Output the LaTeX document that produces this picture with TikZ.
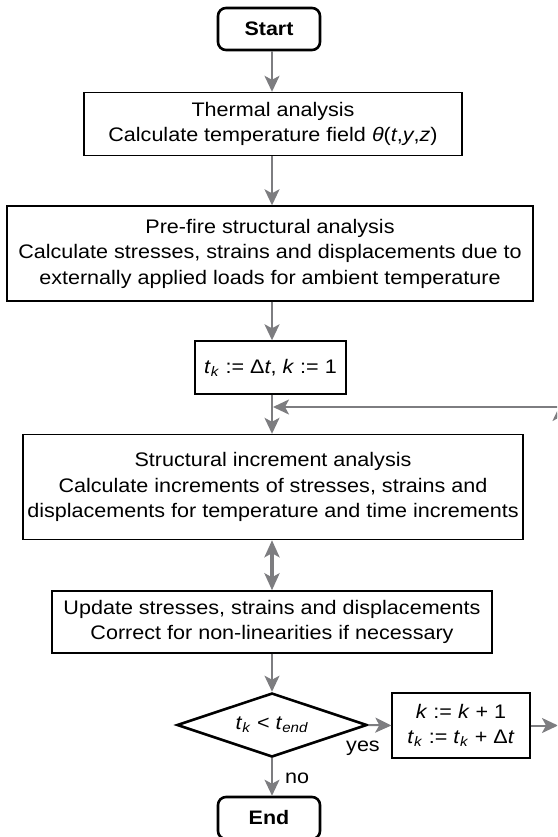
\documentclass[tikz,border=0pt]{standalone}
\usepackage{fontspec}
\setmainfont{Liberation Sans}[FakeStretch=1.1]
\usetikzlibrary{arrows.meta,shapes.geometric}
\definecolor{arrgray}{RGB}{125,125,128}
\newcommand{\tk}{\textit{t}\textsubscript{\textit{k}}}
\begin{document}
\begin{tikzpicture}[x=1pt,y=-1pt,
  txt/.style={font=\fontsize{19.6}{25.5}\selectfont, align=center},
  box/.style={txt, draw=black, line width=1.4pt, inner sep=0pt},
  term/.style={box, line width=2.6pt, rounded corners=8pt, font=\fontsize{19.5}{23}\selectfont\bfseries,
    minimum width=102pt, minimum height=42pt},
  dec/.style={txt, draw=black, line width=2.6pt, shape=diamond, inner sep=0pt, aspect=2.97,
    minimum width=190pt, minimum height=64pt},
  arr/.style={draw=arrgray, line width=2pt, -{Stealth[length=16pt,width=15pt,inset=4pt]}},
  dbl/.style={draw=arrgray, line width=3.5pt, {Stealth[length=17pt,width=15pt,inset=4pt]}-{Stealth[length=17pt,width=15pt,inset=4pt]}},
  lbl/.style={font=\fontsize{19.6}{22}\selectfont, inner sep=0pt}]
\useasboundingbox (0,0) rectangle (557,837);
\clip (0,0) rectangle (557,837);
\coordinate (axis) at (272,0);

\node[term] (start) at (269,29) {Start};
\node[box, minimum width=378pt, minimum height=63pt] (thermal) at (273,124)
  {Thermal analysis\\Calculate temperature field \textit{θ}(\textit{t},\textit{y},\textit{z})};
\node[box, minimum width=526pt, minimum height=95pt] (prefire) at (270,253.5)
  {Pre-fire structural analysis\\Calculate stresses, strains and displacements due to\\externally applied loads for ambient temperature};
\node[box, minimum width=151pt, minimum height=53pt] (init) at (270.5,367.5)
  {\tk\ := Δ\textit{t}, \textit{k} := 1};
\node[box, minimum width=500pt, minimum height=105pt] (struct) at (273,487)
  {Structural increment analysis\\Calculate increments of stresses, strains and\\displacements for temperature and time increments};
\node[box, minimum width=440pt, minimum height=62pt] (update) at (272,622)
  {Update stresses, strains and displacements\\Correct for non-linearities if necessary};
\node[dec] (cond) at (272,725) {\tk\ < \textit{t}\textsubscript{\textit{end}}};
\node[box, minimum width=138pt, minimum height=65pt] (kbox) at (461,725.5)
  {\textit{k} := \textit{k} + 1\\\tk\ := \tk\ + Δ\textit{t}};
\node[term] (end) at (269,818) {End};

\node[lbl] (yes) at (363,748) {yes};
\node[lbl] (no) at (297,778) {no};

\coordinate (loop) at (273,407);
\coordinate (rb) at (560,725.5);
\coordinate (rt) at (560,407);

\draw[arr] (start.south -| axis) -- (thermal.north -| axis);
\draw[arr] (thermal.south -| axis) -- (prefire.north -| axis);
\draw[arr] (prefire.south -| axis) -- (init.north -| axis);
\draw[arr] (init.south -| axis) -- (struct.north -| axis);
\draw[dbl] (struct.south -| axis) -- (update.north -| axis);
\draw[arr] (update.south -| axis) -- (cond.north);
\draw[arr] (cond.east) -- (kbox.west);
\draw[arr] (cond.south) -- (end.north -| axis);
\draw[arr] (kbox.east) -- ([xshift=-2pt]rb);
\draw[arr] (rb) -- ([yshift=2pt]rt);
\draw[arr] (rt) -- (loop);
\end{tikzpicture}
\end{document}
